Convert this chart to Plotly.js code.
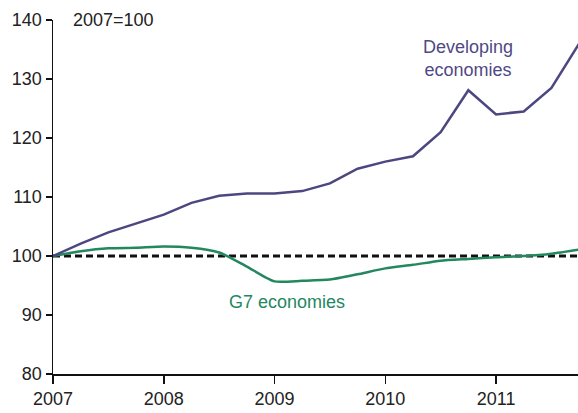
<!DOCTYPE html>
<html><head><meta charset="utf-8">
<script src="https://cdn.plot.ly/plotly-3.0.1.min.js"></script>
<style>html,body{margin:0;padding:0;background:#fff}#chart{width:578px;height:413px}</style>
</head><body><div id="chart"></div>
<script>
const quarters = [2007.0,2007.25,2007.5,2007.75,2008.0,2008.25,2008.5,2008.75,2009.0,2009.25,2009.5,2009.75,2010.0,2010.25,2010.5,2010.75,2011.0,2011.25,2011.5,2011.75];
const developing = [100,102.1,104.0,105.5,107.0,109.0,110.2,110.6,110.6,111.0,112.3,114.8,116.0,116.9,121.0,128.1,124.0,124.5,128.5,136.0];
const g7 = [100,100.8,101.3,101.4,101.6,101.4,100.6,98.2,95.7,95.8,96.0,96.9,97.9,98.5,99.2,99.5,99.8,100.0,100.4,101.1];
const baseX = [2007, 2012];
const baseY = [100, 100];
const yearTicks = [2007,2008,2009,2010,2011];
const yearLabels = ["2007","2008","2009","2010","2011"];
const yTicks = [80,90,100,110,120,130,140];

const traces = [
  {x: baseX, y: baseY, mode:'lines', line:{color:'#111', width:3, dash:'7px,4px'}, hoverinfo:'skip'},
  {x: quarters, y: g7, mode:'lines', line:{color:'#23875f', width:2.5, shape:'spline', smoothing:0.6}},
  {x: quarters, y: developing, mode:'lines', line:{color:'#4c4780', width:2.5}}
];
const layout = {
  width:578, height:413,
  margin:{l:53, r:0, t:20, b:39},
  showlegend:false,
  paper_bgcolor:'#fff', plot_bgcolor:'#fff',
  font:{family:'Liberation Sans, Arial, sans-serif', size:18, color:'#222'},
  xaxis:{range:[2007, 2011.74], tickvals:yearTicks, ticktext:yearLabels, showgrid:false, zeroline:false,
    showline:true, linecolor:'#111', linewidth:1.5, ticks:'outside', ticklen:8, tickwidth:1.5, tickcolor:'#111',
    tickfont:{size:18, color:'#222'}},
  yaxis:{range:[80,140], tickvals:yTicks, showgrid:false, zeroline:false,
    showline:true, linecolor:'#111', linewidth:1.5, ticks:'outside', ticklen:6, tickwidth:1.5, tickcolor:'#111',
    tickfont:{size:18, color:'#222'}},
  annotations:[
    {text:'2007=100', xref:'paper', yref:'paper', x:0.035, y:1.0, xanchor:'left', yanchor:'middle', showarrow:false, font:{size:18, color:'#222'}},
    {text:'Developing<br>economies', xref:'x', yref:'y', x:2010.75, y:133.5, xanchor:'center', yanchor:'middle', showarrow:false, align:'center', font:{size:18, color:'#4f4985'}},
    {text:'G7 economies', xref:'x', yref:'y', x:2009.11, y:92.2, xanchor:'center', yanchor:'middle', showarrow:false, font:{size:18, color:'#23875f'}}
  ]
};
Plotly.newPlot('chart', traces, layout, {staticPlot:true});
</script></body></html>
